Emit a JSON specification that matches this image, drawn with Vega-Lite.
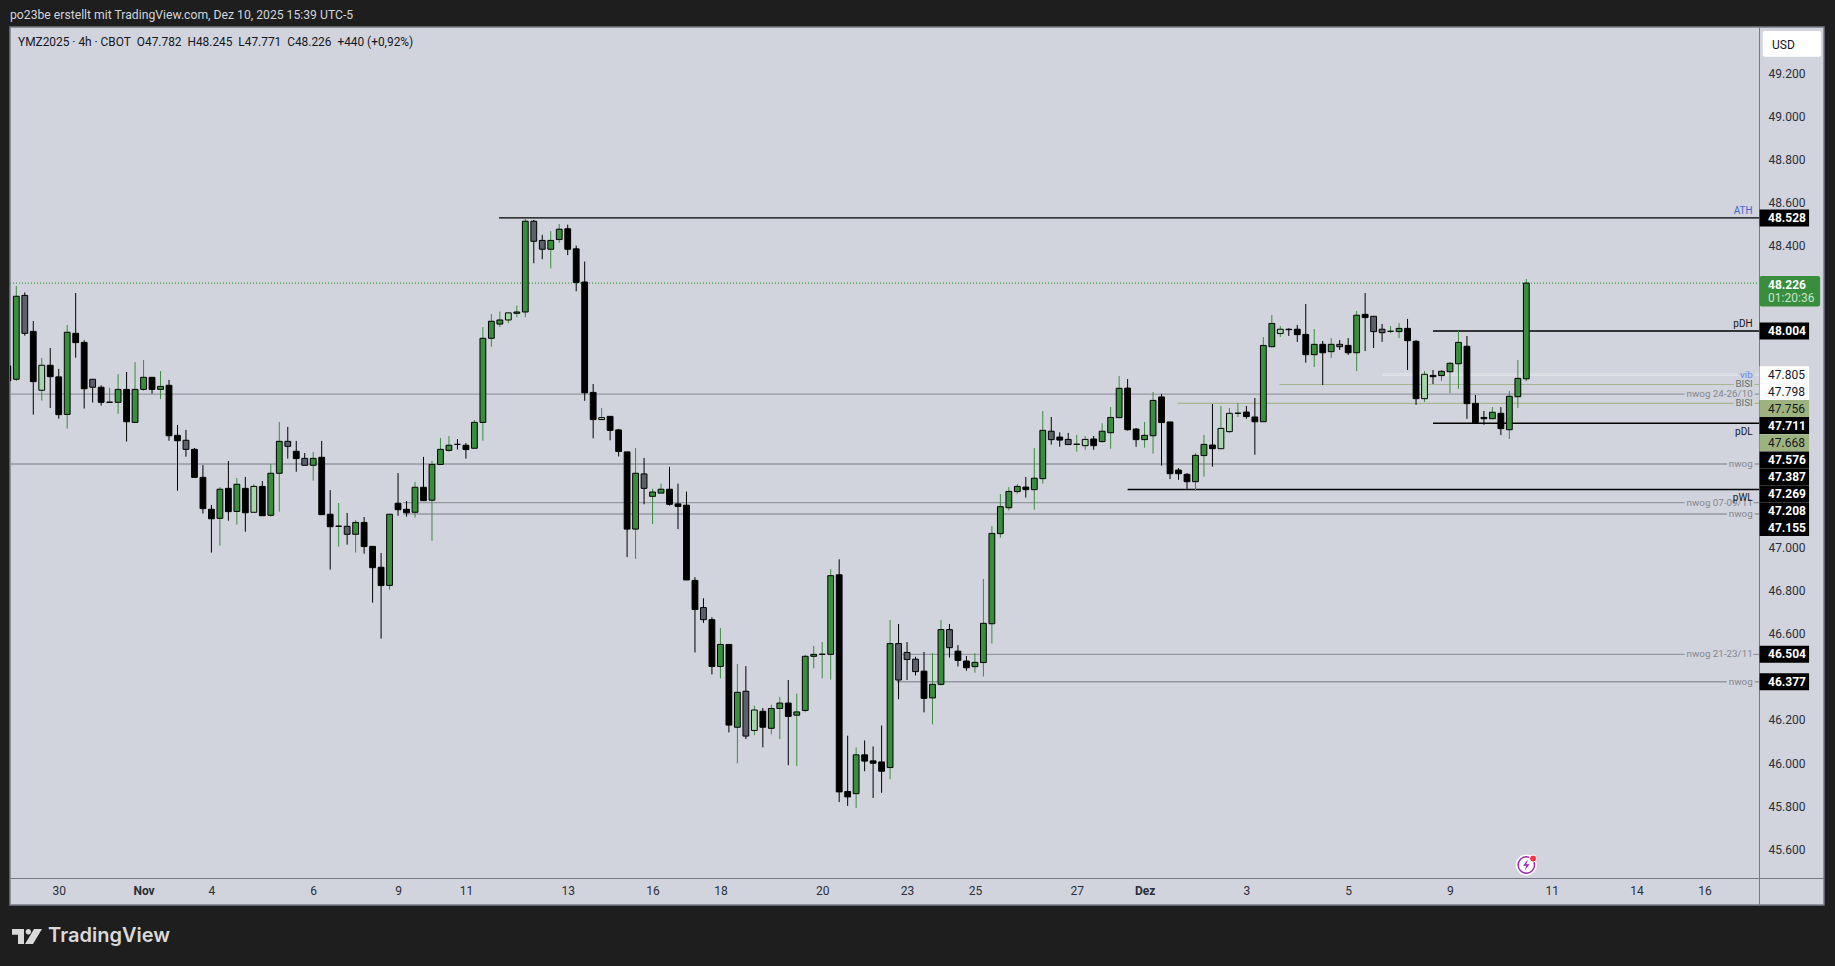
{
  "$schema": "https://vega.github.io/schema/vega-lite/v6.json",
  "autosize": {"type": "none"},
  "width": 1814,
  "height": 878,
  "padding": {"left": 10, "top": 27, "right": 11, "bottom": 61},
  "background": "#1e1e1e",
  "title": {"text": "po23be erstellt mit TradingView.com, Dez 10, 2025 15:39 UTC-5", "anchor": "start", "frame": "group", "color": "#d1d4dc", "font": "Roboto", "fontSize": 12.2, "fontWeight": "normal", "offset": 6},
  "config": {"view": {"fill": "#d1d4dc", "stroke": "#787b86", "strokeWidth": 1.5}, "text": {"font": "Roboto"}},
  "datasets": {
    "candles": [
      {"i":-1,"o":47.842,"h":47.842,"l":47.773,"c":47.773,"kind":"down"},
      {"i":0,"o":47.780,"h":48.213,"l":47.772,"c":48.165,"kind":"up"},
      {"i":1,"o":48.169,"h":48.183,"l":47.982,"c":47.993,"kind":"gray"},
      {"i":2,"o":48.002,"h":48.050,"l":47.616,"c":47.769,"kind":"down"},
      {"i":3,"o":47.729,"h":47.879,"l":47.681,"c":47.845,"kind":"light"},
      {"i":4,"o":47.845,"h":47.925,"l":47.647,"c":47.792,"kind":"down"},
      {"i":5,"o":47.791,"h":47.828,"l":47.597,"c":47.616,"kind":"down"},
      {"i":6,"o":47.617,"h":48.032,"l":47.551,"c":47.998,"kind":"up"},
      {"i":7,"o":47.993,"h":48.180,"l":47.880,"c":47.950,"kind":"down"},
      {"i":8,"o":47.951,"h":47.961,"l":47.644,"c":47.736,"kind":"down"},
      {"i":9,"o":47.780,"h":47.780,"l":47.672,"c":47.743,"kind":"gray"},
      {"i":10,"o":47.743,"h":47.752,"l":47.658,"c":47.673,"kind":"down"},
      {"i":11,"o":47.673,"h":47.740,"l":47.672,"c":47.674,"kind":"up"},
      {"i":12,"o":47.673,"h":47.804,"l":47.620,"c":47.733,"kind":"up"},
      {"i":13,"o":47.733,"h":47.814,"l":47.491,"c":47.583,"kind":"down"},
      {"i":14,"o":47.580,"h":47.860,"l":47.580,"c":47.733,"kind":"up"},
      {"i":15,"o":47.733,"h":47.869,"l":47.727,"c":47.789,"kind":"up"},
      {"i":16,"o":47.789,"h":47.789,"l":47.713,"c":47.733,"kind":"down"},
      {"i":17,"o":47.733,"h":47.818,"l":47.688,"c":47.747,"kind":"up"},
      {"i":18,"o":47.752,"h":47.777,"l":47.495,"c":47.518,"kind":"down"},
      {"i":19,"o":47.520,"h":47.568,"l":47.263,"c":47.495,"kind":"down"},
      {"i":20,"o":47.497,"h":47.545,"l":47.421,"c":47.455,"kind":"gray"},
      {"i":21,"o":47.455,"h":47.461,"l":47.325,"c":47.325,"kind":"down"},
      {"i":22,"o":47.325,"h":47.382,"l":47.157,"c":47.180,"kind":"down"},
      {"i":23,"o":47.177,"h":47.197,"l":46.976,"c":47.133,"kind":"down"},
      {"i":24,"o":47.135,"h":47.280,"l":47.008,"c":47.270,"kind":"up"},
      {"i":25,"o":47.274,"h":47.401,"l":47.124,"c":47.166,"kind":"down"},
      {"i":26,"o":47.167,"h":47.322,"l":47.106,"c":47.293,"kind":"up"},
      {"i":27,"o":47.274,"h":47.327,"l":47.073,"c":47.161,"kind":"down"},
      {"i":28,"o":47.163,"h":47.294,"l":47.163,"c":47.283,"kind":"light"},
      {"i":29,"o":47.283,"h":47.308,"l":47.147,"c":47.147,"kind":"down"},
      {"i":30,"o":47.149,"h":47.387,"l":47.143,"c":47.344,"kind":"up"},
      {"i":31,"o":47.344,"h":47.582,"l":47.166,"c":47.492,"kind":"up"},
      {"i":32,"o":47.492,"h":47.559,"l":47.412,"c":47.469,"kind":"gray"},
      {"i":33,"o":47.446,"h":47.494,"l":47.351,"c":47.412,"kind":"down"},
      {"i":34,"o":47.413,"h":47.438,"l":47.381,"c":47.381,"kind":"gray"},
      {"i":35,"o":47.381,"h":47.443,"l":47.310,"c":47.413,"kind":"up"},
      {"i":36,"o":47.418,"h":47.494,"l":47.152,"c":47.152,"kind":"down"},
      {"i":37,"o":47.154,"h":47.266,"l":46.897,"c":47.096,"kind":"down"},
      {"i":38,"o":47.098,"h":47.206,"l":47.004,"c":47.099,"kind":"up"},
      {"i":39,"o":47.098,"h":47.160,"l":47.013,"c":47.061,"kind":"gray"},
      {"i":40,"o":47.061,"h":47.127,"l":46.976,"c":47.116,"kind":"up"},
      {"i":41,"o":47.116,"h":47.141,"l":46.971,"c":47.004,"kind":"down"},
      {"i":42,"o":47.005,"h":47.005,"l":46.744,"c":46.906,"kind":"down"},
      {"i":43,"o":46.908,"h":46.974,"l":46.577,"c":46.823,"kind":"down"},
      {"i":44,"o":46.824,"h":47.154,"l":46.804,"c":47.154,"kind":"up"},
      {"i":45,"o":47.205,"h":47.345,"l":47.147,"c":47.175,"kind":"down"},
      {"i":46,"o":47.177,"h":47.215,"l":47.143,"c":47.161,"kind":"down"},
      {"i":47,"o":47.163,"h":47.304,"l":47.138,"c":47.279,"kind":"up"},
      {"i":48,"o":47.279,"h":47.420,"l":47.217,"c":47.217,"kind":"down"},
      {"i":49,"o":47.219,"h":47.401,"l":47.031,"c":47.385,"kind":"up"},
      {"i":50,"o":47.385,"h":47.508,"l":47.385,"c":47.455,"kind":"up"},
      {"i":51,"o":47.450,"h":47.517,"l":47.444,"c":47.474,"kind":"up"},
      {"i":52,"o":47.478,"h":47.503,"l":47.454,"c":47.478,"kind":"down"},
      {"i":53,"o":47.474,"h":47.484,"l":47.412,"c":47.454,"kind":"down"},
      {"i":54,"o":47.460,"h":47.591,"l":47.460,"c":47.580,"kind":"up"},
      {"i":55,"o":47.580,"h":48.022,"l":47.495,"c":47.970,"kind":"up"},
      {"i":56,"o":47.970,"h":48.083,"l":47.931,"c":48.049,"kind":"up"},
      {"i":57,"o":48.036,"h":48.094,"l":48.022,"c":48.055,"kind":"up"},
      {"i":58,"o":48.055,"h":48.088,"l":48.040,"c":48.088,"kind":"light"},
      {"i":59,"o":48.086,"h":48.122,"l":48.068,"c":48.092,"kind":"up"},
      {"i":60,"o":48.092,"h":48.528,"l":48.068,"c":48.513,"kind":"up"},
      {"i":61,"o":48.513,"h":48.519,"l":48.318,"c":48.420,"kind":"gray"},
      {"i":62,"o":48.424,"h":48.450,"l":48.337,"c":48.383,"kind":"gray"},
      {"i":63,"o":48.383,"h":48.467,"l":48.294,"c":48.424,"kind":"up"},
      {"i":64,"o":48.428,"h":48.500,"l":48.413,"c":48.476,"kind":"up"},
      {"i":65,"o":48.478,"h":48.497,"l":48.356,"c":48.383,"kind":"down"},
      {"i":66,"o":48.385,"h":48.400,"l":48.188,"c":48.229,"kind":"down"},
      {"i":67,"o":48.231,"h":48.326,"l":47.680,"c":47.717,"kind":"down"},
      {"i":68,"o":47.719,"h":47.758,"l":47.506,"c":47.593,"kind":"down"},
      {"i":69,"o":47.593,"h":47.647,"l":47.593,"c":47.602,"kind":"light"},
      {"i":70,"o":47.608,"h":47.608,"l":47.497,"c":47.543,"kind":"down"},
      {"i":71,"o":47.545,"h":47.550,"l":47.422,"c":47.445,"kind":"down"},
      {"i":72,"o":47.443,"h":47.443,"l":46.955,"c":47.085,"kind":"down"},
      {"i":73,"o":47.085,"h":47.461,"l":46.947,"c":47.344,"kind":"up"},
      {"i":74,"o":47.341,"h":47.415,"l":47.200,"c":47.274,"kind":"gray"},
      {"i":75,"o":47.237,"h":47.272,"l":47.109,"c":47.257,"kind":"up"},
      {"i":76,"o":47.252,"h":47.296,"l":47.252,"c":47.270,"kind":"up"},
      {"i":77,"o":47.270,"h":47.374,"l":47.194,"c":47.200,"kind":"down"},
      {"i":78,"o":47.202,"h":47.296,"l":47.085,"c":47.190,"kind":"down"},
      {"i":79,"o":47.196,"h":47.259,"l":46.849,"c":46.849,"kind":"down"},
      {"i":80,"o":46.847,"h":46.862,"l":46.513,"c":46.712,"kind":"down"},
      {"i":81,"o":46.721,"h":46.764,"l":46.650,"c":46.665,"kind":"gray"},
      {"i":82,"o":46.665,"h":46.676,"l":46.411,"c":46.448,"kind":"down"},
      {"i":83,"o":46.448,"h":46.626,"l":46.393,"c":46.550,"kind":"up"},
      {"i":84,"o":46.550,"h":46.550,"l":46.142,"c":46.176,"kind":"down"},
      {"i":85,"o":46.166,"h":46.459,"l":45.999,"c":46.328,"kind":"up"},
      {"i":86,"o":46.333,"h":46.450,"l":46.111,"c":46.125,"kind":"gray"},
      {"i":87,"o":46.151,"h":46.266,"l":46.129,"c":46.246,"kind":"light"},
      {"i":88,"o":46.240,"h":46.255,"l":46.073,"c":46.166,"kind":"down"},
      {"i":89,"o":46.161,"h":46.270,"l":46.133,"c":46.253,"kind":"up"},
      {"i":90,"o":46.253,"h":46.307,"l":46.111,"c":46.278,"kind":"up"},
      {"i":91,"o":46.278,"h":46.385,"l":45.990,"c":46.216,"kind":"down"},
      {"i":92,"o":46.222,"h":46.322,"l":45.986,"c":46.237,"kind":"up"},
      {"i":93,"o":46.244,"h":46.502,"l":46.235,"c":46.495,"kind":"up"},
      {"i":94,"o":46.495,"h":46.543,"l":46.439,"c":46.504,"kind":"up"},
      {"i":95,"o":46.504,"h":46.561,"l":46.393,"c":46.505,"kind":"up"},
      {"i":96,"o":46.504,"h":46.899,"l":46.387,"c":46.869,"kind":"up"},
      {"i":97,"o":46.873,"h":46.945,"l":45.819,"c":45.866,"kind":"down"},
      {"i":98,"o":45.868,"h":46.127,"l":45.801,"c":45.843,"kind":"down"},
      {"i":99,"o":45.858,"h":46.072,"l":45.791,"c":46.038,"kind":"up"},
      {"i":100,"o":46.038,"h":46.105,"l":45.962,"c":46.009,"kind":"down"},
      {"i":101,"o":46.010,"h":46.077,"l":45.838,"c":45.999,"kind":"down"},
      {"i":102,"o":46.005,"h":46.174,"l":45.862,"c":45.962,"kind":"down"},
      {"i":103,"o":45.979,"h":46.663,"l":45.925,"c":46.554,"kind":"up"},
      {"i":104,"o":46.554,"h":46.645,"l":46.296,"c":46.385,"kind":"gray"},
      {"i":105,"o":46.513,"h":46.561,"l":46.385,"c":46.480,"kind":"gray"},
      {"i":106,"o":46.482,"h":46.493,"l":46.406,"c":46.424,"kind":"gray"},
      {"i":107,"o":46.426,"h":46.515,"l":46.235,"c":46.300,"kind":"down"},
      {"i":108,"o":46.302,"h":46.511,"l":46.179,"c":46.365,"kind":"up"},
      {"i":109,"o":46.365,"h":46.663,"l":46.359,"c":46.619,"kind":"up"},
      {"i":110,"o":46.619,"h":46.645,"l":46.489,"c":46.535,"kind":"gray"},
      {"i":111,"o":46.519,"h":46.547,"l":46.448,"c":46.476,"kind":"down"},
      {"i":112,"o":46.473,"h":46.496,"l":46.428,"c":46.442,"kind":"down"},
      {"i":113,"o":46.447,"h":46.510,"l":46.419,"c":46.467,"kind":"up"},
      {"i":114,"o":46.466,"h":46.854,"l":46.401,"c":46.648,"kind":"up"},
      {"i":115,"o":46.646,"h":47.099,"l":46.554,"c":47.065,"kind":"up"},
      {"i":116,"o":47.064,"h":47.248,"l":47.045,"c":47.189,"kind":"up"},
      {"i":117,"o":47.184,"h":47.280,"l":47.171,"c":47.260,"kind":"up"},
      {"i":118,"o":47.259,"h":47.294,"l":47.249,"c":47.283,"kind":"up"},
      {"i":119,"o":47.280,"h":47.327,"l":47.231,"c":47.268,"kind":"down"},
      {"i":120,"o":47.268,"h":47.461,"l":47.175,"c":47.321,"kind":"up"},
      {"i":121,"o":47.319,"h":47.633,"l":47.296,"c":47.543,"kind":"up"},
      {"i":122,"o":47.539,"h":47.605,"l":47.477,"c":47.500,"kind":"gray"},
      {"i":123,"o":47.512,"h":47.534,"l":47.467,"c":47.498,"kind":"down"},
      {"i":124,"o":47.501,"h":47.531,"l":47.477,"c":47.477,"kind":"gray"},
      {"i":125,"o":47.478,"h":47.522,"l":47.444,"c":47.479,"kind":"up"},
      {"i":126,"o":47.472,"h":47.517,"l":47.453,"c":47.501,"kind":"light"},
      {"i":127,"o":47.503,"h":47.517,"l":47.453,"c":47.472,"kind":"down"},
      {"i":128,"o":47.491,"h":47.576,"l":47.486,"c":47.539,"kind":"up"},
      {"i":129,"o":47.532,"h":47.651,"l":47.458,"c":47.603,"kind":"up"},
      {"i":130,"o":47.602,"h":47.795,"l":47.602,"c":47.738,"kind":"up"},
      {"i":131,"o":47.739,"h":47.781,"l":47.542,"c":47.546,"kind":"down"},
      {"i":132,"o":47.549,"h":47.554,"l":47.467,"c":47.500,"kind":"down"},
      {"i":133,"o":47.500,"h":47.582,"l":47.463,"c":47.520,"kind":"up"},
      {"i":134,"o":47.518,"h":47.721,"l":47.435,"c":47.682,"kind":"up"},
      {"i":135,"o":47.698,"h":47.712,"l":47.379,"c":47.579,"kind":"down"},
      {"i":136,"o":47.582,"h":47.582,"l":47.317,"c":47.342,"kind":"down"},
      {"i":137,"o":47.359,"h":47.368,"l":47.314,"c":47.342,"kind":"down"},
      {"i":138,"o":47.339,"h":47.345,"l":47.272,"c":47.305,"kind":"down"},
      {"i":139,"o":47.305,"h":47.438,"l":47.263,"c":47.427,"kind":"up"},
      {"i":140,"o":47.426,"h":47.522,"l":47.328,"c":47.478,"kind":"up"},
      {"i":141,"o":47.475,"h":47.665,"l":47.375,"c":47.458,"kind":"down"},
      {"i":142,"o":47.458,"h":47.656,"l":47.458,"c":47.552,"kind":"light"},
      {"i":143,"o":47.537,"h":47.647,"l":47.532,"c":47.622,"kind":"light"},
      {"i":144,"o":47.622,"h":47.670,"l":47.605,"c":47.623,"kind":"up"},
      {"i":145,"o":47.628,"h":47.656,"l":47.597,"c":47.607,"kind":"down"},
      {"i":146,"o":47.605,"h":47.693,"l":47.430,"c":47.583,"kind":"down"},
      {"i":147,"o":47.583,"h":47.976,"l":47.583,"c":47.937,"kind":"up"},
      {"i":148,"o":47.931,"h":48.078,"l":47.931,"c":48.039,"kind":"up"},
      {"i":149,"o":47.992,"h":48.027,"l":47.976,"c":48.012,"kind":"light"},
      {"i":150,"o":48.012,"h":48.016,"l":47.981,"c":48.010,"kind":"down"},
      {"i":151,"o":48.012,"h":48.032,"l":47.953,"c":47.987,"kind":"down"},
      {"i":152,"o":47.988,"h":48.129,"l":47.857,"c":47.894,"kind":"down"},
      {"i":153,"o":47.894,"h":48.013,"l":47.837,"c":47.942,"kind":"up"},
      {"i":154,"o":47.942,"h":47.958,"l":47.753,"c":47.903,"kind":"down"},
      {"i":155,"o":47.908,"h":47.971,"l":47.879,"c":47.942,"kind":"up"},
      {"i":156,"o":47.942,"h":47.962,"l":47.916,"c":47.931,"kind":"gray"},
      {"i":157,"o":47.937,"h":47.971,"l":47.893,"c":47.903,"kind":"down"},
      {"i":158,"o":47.903,"h":48.097,"l":47.818,"c":48.077,"kind":"up"},
      {"i":159,"o":48.081,"h":48.180,"l":47.911,"c":48.066,"kind":"down"},
      {"i":160,"o":48.072,"h":48.072,"l":47.925,"c":48.001,"kind":"gray"},
      {"i":161,"o":48.012,"h":48.036,"l":47.953,"c":47.996,"kind":"gray"},
      {"i":162,"o":48.002,"h":48.027,"l":47.993,"c":48.003,"kind":"up"},
      {"i":163,"o":48.001,"h":48.041,"l":47.971,"c":48.016,"kind":"up"},
      {"i":164,"o":48.016,"h":48.060,"l":47.823,"c":47.959,"kind":"down"},
      {"i":165,"o":47.956,"h":47.962,"l":47.661,"c":47.690,"kind":"down"},
      {"i":166,"o":47.690,"h":47.818,"l":47.675,"c":47.803,"kind":"light"},
      {"i":167,"o":47.798,"h":47.823,"l":47.758,"c":47.792,"kind":"down"},
      {"i":168,"o":47.797,"h":47.823,"l":47.772,"c":47.817,"kind":"up"},
      {"i":169,"o":47.815,"h":47.860,"l":47.716,"c":47.854,"kind":"up"},
      {"i":170,"o":47.852,"h":48.004,"l":47.735,"c":47.951,"kind":"up"},
      {"i":171,"o":47.933,"h":47.981,"l":47.596,"c":47.667,"kind":"down"},
      {"i":172,"o":47.668,"h":47.707,"l":47.573,"c":47.579,"kind":"down"},
      {"i":173,"o":47.603,"h":47.633,"l":47.569,"c":47.597,"kind":"down"},
      {"i":174,"o":47.597,"h":47.651,"l":47.597,"c":47.627,"kind":"up"},
      {"i":175,"o":47.622,"h":47.651,"l":47.521,"c":47.551,"kind":"down"},
      {"i":176,"o":47.546,"h":47.726,"l":47.503,"c":47.701,"kind":"up"},
      {"i":177,"o":47.699,"h":47.869,"l":47.647,"c":47.784,"kind":"up"},
      {"i":178,"o":47.782,"h":48.245,"l":47.771,"c":48.226,"kind":"up"}
    ],
    "levels": [
      {"name":"","from":-0.74,"to":205.43,"price":48.226,"style":"dotted","tone":"dark","pos":"none"},
      {"name":"nwog 24-26/10","from":-0.74,"to":205.43,"price":47.711,"style":"gray","tone":"gray","pos":"center"},
      {"name":"nwog","from":-0.74,"to":205.43,"price":47.387,"style":"gray","tone":"gray","pos":"center"},
      {"name":"nwog 07-09/11","from":45.6,"to":205.43,"price":47.208,"style":"gray","tone":"gray","pos":"center"},
      {"name":"nwog","from":45.6,"to":205.43,"price":47.155,"style":"gray","tone":"gray","pos":"center"},
      {"name":"nwog 21-23/11","from":103.8,"to":205.43,"price":46.504,"style":"gray","tone":"gray","pos":"center"},
      {"name":"nwog","from":103.8,"to":205.43,"price":46.377,"style":"gray","tone":"gray","pos":"center"},
      {"name":"","from":161,"to":205.43,"price":47.805,"style":"white","tone":"vib","pos":"none"},
      {"name":"vib","from":161,"to":205.43,"price":47.798,"style":"white","tone":"vib","pos":"center"},
      {"name":"BISI","from":148.9,"to":205.43,"price":47.756,"style":"olive","tone":"slate","pos":"center"},
      {"name":"BISI","from":136.9,"to":205.43,"price":47.668,"style":"olive","tone":"slate","pos":"center"},
      {"name":"ATH","from":56.9,"to":205.43,"price":48.528,"style":"heavy","tone":"blue","pos":"above"},
      {"name":"pDH","from":167,"to":205.43,"price":48.004,"style":"black","tone":"dark","pos":"above"},
      {"name":"pDL","from":167,"to":205.43,"price":47.576,"style":"black","tone":"dark","pos":"below"},
      {"name":"pWL","from":131,"to":205.43,"price":47.269,"style":"black","tone":"dark","pos":"below"}
    ],
    "tags": [
      {"tag":"48.528","at":48.528,"bg":"black"},
      {"tag":"48.004","at":48.004,"bg":"black"},
      {"tag":"47.805","at":47.801,"bg":"white"},
      {"tag":"47.798","at":47.722,"bg":"white"},
      {"tag":"47.756","at":47.644,"bg":"olive"},
      {"tag":"47.711","at":47.565,"bg":"black"},
      {"tag":"47.668","at":47.486,"bg":"olive"},
      {"tag":"47.576","at":47.406,"bg":"black"},
      {"tag":"47.387","at":47.327,"bg":"black"},
      {"tag":"47.269","at":47.248,"bg":"black"},
      {"tag":"47.208","at":47.169,"bg":"black"},
      {"tag":"47.155","at":47.092,"bg":"black"},
      {"tag":"46.504","at":46.504,"bg":"black"},
      {"tag":"46.377","at":46.377,"bg":"black"}
    ],
    "boxes": [
      {"left":205.5,"right":212.63,"top":48.259,"bottom":48.117,"fill":"#388e3c"},
      {"left":205.87,"right":212.74,"top":49.395,"bottom":49.276,"fill":"#ffffff"}
    ]
  },
  "layer": [
    {
      "data": {"name": "levels"},
      "transform": [{"filter": "datum.style != 'dotted'"}],
      "mark": {"type": "rule"},
      "encoding": {
        "x": {"field": "from", "type": "quantitative", "title": null,
          "scale": {"domain": [-0.743, 213.09], "nice": false, "zero": false, "padding": 0},
          "axis": {
            "orient": "bottom", "offset": -27, "grid": false, "ticks": false,
            "values": [5,15,23,35,45,53,65,75,83,95,105,113,125,133,145,157,169,181,191,199],
            "labelExpr": "({5:'30',15:'Nov',23:'4',35:'6',45:'9',53:'11',65:'13',75:'16',83:'18',95:'20',105:'23',113:'25',125:'27',133:'Dez',145:'3',157:'5',169:'9',181:'11',191:'14',199:'16'})[datum.value]",
            "labelFont": "Roboto", "labelFontSize": 12, "labelColor": "#2a2e39", "labelPadding": 7, "labelFlush": false, "labelOverlap": false,
            "labelFontWeight": {"condition": {"test": "datum.value == 15 || datum.value == 133", "value": "bold"}, "value": "normal"},
            "domainColor": "#787b86", "domainWidth": 1
          }
        },
        "x2": {"field": "to"},
        "y": {"field": "price", "type": "quantitative", "title": null,
          "scale": {"domain": [45.3415, 49.4139], "nice": false, "zero": false, "padding": 0},
          "axis": {
            "orient": "right", "offset": -65, "grid": false, "ticks": false,
            "values": [45.6,45.8,46.0,46.2,46.6,46.8,47.0,48.4,48.6,48.8,49.0,49.2],
            "labelExpr": "format(datum.value, '.3f')",
            "labelFont": "Roboto", "labelFontSize": 12, "labelColor": "#2a2e39", "labelPadding": 9, "labelAlign": "left", "labelOverlap": false, "labelFlush": false,
            "domainColor": "#787b86", "domainWidth": 1
          }
        },
        "color": {"field": "style", "type": "nominal", "legend": null,
          "scale": {"domain": ["gray","white","olive","heavy","black"], "range": ["#9598a1","#e2e4ea","#a5b58f","#000000","#000000"]}},
        "strokeWidth": {"field": "style", "type": "nominal", "legend": null, "sort": null,
          "scale": {"domain": ["black","gray","heavy","olive","white"], "range": [1.5,1,2.4,1,0.9]}}
      }
    },
    {
      "data": {"name": "levels"},
      "transform": [{"filter": "datum.style == 'dotted'"}],
      "mark": {"type": "rule", "color": "#2e9e3a", "strokeWidth": 1.2, "strokeDash": [1, 2]},
      "encoding": {
        "x": {"field": "from", "type": "quantitative"},
        "x2": {"field": "to"},
        "y": {"field": "price", "type": "quantitative"}
      }
    },
    {
      "data": {"name": "candles"},
      "mark": {"type": "rule", "strokeWidth": 1, "clip": true},
      "encoding": {
        "x": {"field": "i", "type": "quantitative"},
        "y": {"field": "h", "type": "quantitative"},
        "y2": {"field": "l"},
        "color": {"condition": {"test": "datum.kind == 'up' || datum.kind == 'light'", "value": "#388e3c"}, "value": "#000000"}
      }
    },
    {
      "data": {"name": "candles"},
      "mark": {"type": "bar", "size": 5.8, "stroke": "#000000", "strokeWidth": 1, "clip": true},
      "encoding": {
        "x": {"field": "i", "type": "quantitative"},
        "y": {"field": "o", "type": "quantitative"},
        "y2": {"field": "c"},
        "color": {"field": "kind", "type": "nominal", "legend": null,
          "scale": {"domain": ["up","down","light","gray"], "range": ["#388e3c","#000000","#a5d6a7","#5d606b"]}}
      }
    },
    {
      "data": {"name": "levels"},
      "transform": [{"filter": "datum.pos == 'center'"}],
      "mark": {"type": "text", "align": "right", "baseline": "middle", "fontSize": 9.8, "stroke": "#d1d4dc", "strokeWidth": 5},
      "encoding": {
        "x": {"datum": 204.68, "type": "quantitative"},
        "y": {"field": "price", "type": "quantitative"},
        "text": {"field": "name"}
      }
    },
    {
      "data": {"name": "levels"},
      "transform": [{"filter": "datum.pos == 'center'"}],
      "mark": {"type": "text", "align": "right", "baseline": "middle", "fontSize": 9.8},
      "encoding": {
        "x": {"datum": 204.68, "type": "quantitative"},
        "y": {"field": "price", "type": "quantitative"},
        "text": {"field": "name"},
        "color": {"field": "tone", "type": "nominal", "legend": null,
          "scale": {"domain": ["gray","vib","slate"], "range": ["#83868f","#6385f5","#5a7571"]}}
      }
    },
    {
      "data": {"name": "levels"},
      "transform": [{"filter": "datum.pos == 'above'"}],
      "mark": {"type": "text", "align": "right", "baseline": "middle", "fontSize": 10, "dy": -7},
      "encoding": {
        "x": {"datum": 204.68, "type": "quantitative"},
        "y": {"field": "price", "type": "quantitative"},
        "text": {"field": "name"},
        "color": {"field": "tone", "type": "nominal", "legend": null,
          "scale": {"domain": ["blue","dark"], "range": ["#3f66d0","#131722"]}}
      }
    },
    {
      "data": {"name": "levels"},
      "transform": [{"filter": "datum.pos == 'below'"}],
      "mark": {"type": "text", "align": "right", "baseline": "middle", "fontSize": 10, "dy": 9, "color": "#131722"},
      "encoding": {
        "x": {"datum": 204.68, "type": "quantitative"},
        "y": {"field": "price", "type": "quantitative"},
        "text": {"field": "name"}
      }
    },
    {
      "data": {"name": "boxes"},
      "mark": {"type": "rect", "cornerRadius": 2},
      "encoding": {
        "x": {"field": "left", "type": "quantitative"},
        "x2": {"field": "right"},
        "y": {"field": "top", "type": "quantitative"},
        "y2": {"field": "bottom"},
        "color": {"field": "fill", "type": "nominal", "legend": null, "scale": null}
      }
    },
    {
      "data": {"name": "tags"},
      "mark": {"type": "bar", "size": 17, "orient": "horizontal"},
      "encoding": {
        "x": {"datum": 205.5, "type": "quantitative"},
        "x2": {"datum": 211.33},
        "y": {"field": "at", "type": "quantitative"},
        "color": {"field": "bg", "type": "nominal", "legend": null,
          "scale": {"domain": ["black","white","olive"], "range": ["#000000","#ffffff","#9db37f"]}}
      }
    },
    {
      "data": {"name": "tags"},
      "transform": [{"filter": "datum.bg == 'black'"}],
      "mark": {"type": "text", "align": "left", "baseline": "middle", "fontSize": 12, "fontWeight": "bold", "color": "#ffffff"},
      "encoding": {
        "x": {"datum": 206.5, "type": "quantitative"},
        "y": {"field": "at", "type": "quantitative"},
        "text": {"field": "tag"}
      }
    },
    {
      "data": {"name": "tags"},
      "transform": [{"filter": "datum.bg != 'black'"}],
      "mark": {"type": "text", "align": "left", "baseline": "middle", "fontSize": 12, "color": "#131722"},
      "encoding": {
        "x": {"datum": 206.5, "type": "quantitative"},
        "y": {"field": "at", "type": "quantitative"},
        "text": {"field": "tag"}
      }
    },
    {
      "data": {"values": [{"text":"48.226","i":206.5,"p":48.219}]},
      "mark": {"type": "text", "align": "left", "baseline": "middle", "fontSize": 12, "fontWeight": "bold", "color": "#ffffff"},
      "encoding": {
        "x": {"field": "i", "type": "quantitative"},
        "y": {"field": "p", "type": "quantitative"},
        "text": {"field": "text"}
      }
    },
    {
      "data": {"values": [{"text":"01:20:36","i":206.5,"p":48.156}]},
      "mark": {"type": "text", "align": "left", "baseline": "middle", "fontSize": 12, "color": "#c9e3ca"},
      "encoding": {
        "x": {"field": "i", "type": "quantitative"},
        "y": {"field": "p", "type": "quantitative"},
        "text": {"field": "text"}
      }
    },
    {
      "data": {"values": [{"text":"USD","i":206.97,"p":49.332}]},
      "mark": {"type": "text", "align": "left", "baseline": "middle", "fontSize": 12, "color": "#131722"},
      "encoding": {
        "x": {"field": "i", "type": "quantitative"},
        "y": {"field": "p", "type": "quantitative"},
        "text": {"field": "text"}
      }
    },
    {
      "data": {"values": [{"text":"YMZ2025 · 4h · CBOT\u00a0\u00a0O47.782\u00a0\u00a0H48.245\u00a0\u00a0L47.771\u00a0\u00a0C48.226\u00a0\u00a0+440 (+0,92%)","i":0.2,"p":49.344}]},
      "mark": {"type": "text", "align": "left", "baseline": "middle", "fontSize": 11.9, "color": "#131722"},
      "encoding": {
        "x": {"field": "i", "type": "quantitative"},
        "y": {"field": "p", "type": "quantitative"},
        "text": {"field": "text"}
      }
    },
    {
      "data": {"values": [{"text":"TradingView","i":3.75,"p":45.197}]},
      "mark": {"type": "text", "align": "left", "baseline": "middle", "font": "Inter", "fontSize": 20, "fontWeight": 600, "color": "#d9d9d9"},
      "encoding": {
        "x": {"field": "i", "type": "quantitative"},
        "y": {"field": "p", "type": "quantitative"},
        "text": {"field": "text"}
      }
    },
    {
      "data": {"values": [{"i":1.26,"p":45.195}]},
      "mark": {"type": "point", "filled": true, "opacity": 1, "color": "#d9d9d9", "size": 900,
        "shape": "M-1,-.5L-.2,-.5L-.2,.5L-.6,.5L-.6,-.13L-1,-.13ZM-.09,-.32a.18,.18 0 1,0 .36,0a.18,.18 0 1,0 -.36,0ZM.47,-.5L1,-.5L.4,.5L-.13,.5Z"},
      "encoding": {
        "x": {"field": "i", "type": "quantitative"},
        "y": {"field": "p", "type": "quantitative"}
      }
    },
    {
      "data": {"values": [{"i":178,"p":45.527}]},
      "mark": {"type": "point", "filled": true, "opacity": 1, "color": "#ffffff", "size": 450, "shape": "circle"},
      "encoding": {
        "x": {"field": "i", "type": "quantitative"},
        "y": {"field": "p", "type": "quantitative"}
      }
    },
    {
      "data": {"values": [{"i":178,"p":45.527}]},
      "mark": {"type": "point", "filled": false, "opacity": 1, "color": "#9c27b0", "strokeWidth": 1.5, "size": 270, "shape": "circle"},
      "encoding": {
        "x": {"field": "i", "type": "quantitative"},
        "y": {"field": "p", "type": "quantitative"}
      }
    },
    {
      "data": {"values": [{"i":178,"p":45.527}]},
      "mark": {"type": "point", "filled": true, "opacity": 1, "color": "#9c27b0", "size": 121, "shape": "M.3,-1L-.6,.15H0L-.3,1L.6,-.15H0Z"},
      "encoding": {
        "x": {"field": "i", "type": "quantitative"},
        "y": {"field": "p", "type": "quantitative"}
      }
    },
    {
      "data": {"values": [{"i":178.8,"p":45.557}]},
      "mark": {"type": "point", "filled": true, "opacity": 1, "color": "#f23645", "stroke": "#ffffff", "strokeWidth": 1, "size": 50, "shape": "circle"},
      "encoding": {
        "x": {"field": "i", "type": "quantitative"},
        "y": {"field": "p", "type": "quantitative"}
      }
    }
  ],
  "resolve": {"scale": {"color": "independent"}}
}
